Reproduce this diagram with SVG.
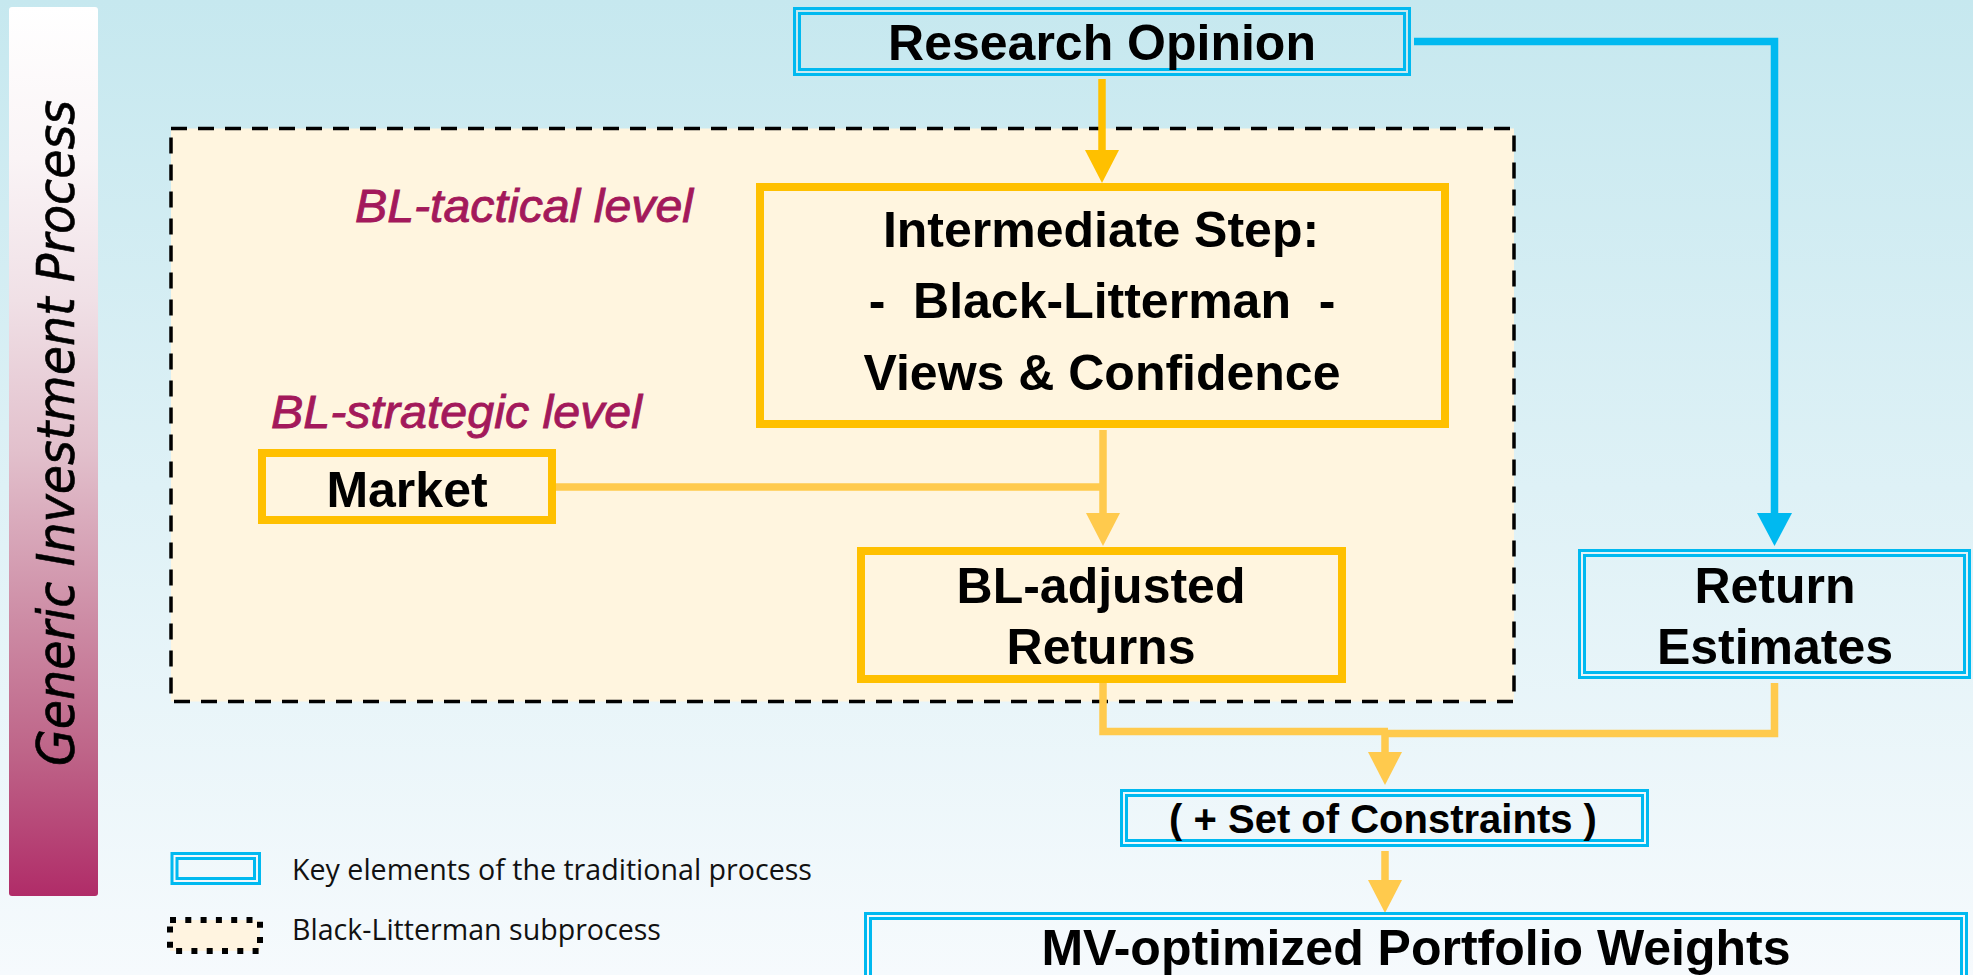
<svg xmlns="http://www.w3.org/2000/svg" width="1973" height="975" viewBox="0 0 1973 975">
<defs>
  <linearGradient id="bg" x1="0" y1="0" x2="0" y2="1">
    <stop offset="0" stop-color="#c6e8ef"/>
    <stop offset="1" stop-color="#f6fafd"/>
  </linearGradient>
  <linearGradient id="bar" x1="0" y1="0" x2="0" y2="1">
    <stop offset="0" stop-color="#ffffff"/>
    <stop offset="0.17" stop-color="#faf4f6"/>
    <stop offset="0.33" stop-color="#f0e0e6"/>
    <stop offset="0.5" stop-color="#e2c0cc"/>
    <stop offset="0.69" stop-color="#cd8ca5"/>
    <stop offset="0.84" stop-color="#be6488"/>
    <stop offset="1" stop-color="#b02c68"/>
  </linearGradient>
  <marker id="ahGold" markerUnits="userSpaceOnUse" markerWidth="33" markerHeight="34" viewBox="0 0 33 34" refX="0" refY="17" orient="auto">
    <path d="M0,0 L33,17 L0,34 z" fill="#ffc000"/>
  </marker>
  <marker id="ahLight" markerUnits="userSpaceOnUse" markerWidth="33" markerHeight="34" viewBox="0 0 33 34" refX="0" refY="17" orient="auto">
    <path d="M0,0 L33,17 L0,34 z" fill="#ffca4d"/>
  </marker>
  <marker id="ahBlue" markerUnits="userSpaceOnUse" markerWidth="33" markerHeight="35" viewBox="0 0 33 35" refX="0" refY="17.5" orient="auto">
    <path d="M0,0 L33,17.5 L0,35 z" fill="#00b9f0"/>
  </marker>
</defs>
<style>
  .nt{font-family:"Liberation Sans",Arial,sans-serif;font-weight:bold;font-size:50px;fill:#000;text-anchor:middle}
  .gold{fill:none;stroke:#ffc000;stroke-width:8}
  .dbl{fill:none;stroke:#00b9f0;stroke-width:3}
  .lvl{font-family:"Liberation Sans",Arial,sans-serif;font-style:italic;font-size:47px;fill:#a3195b;stroke:#a3195b;stroke-width:0.9}
  .leg{font-family:"Open Sans","Liberation Sans",Arial,sans-serif;font-size:29px;fill:#111}
  .cg{fill:none;stroke:#ffc000;stroke-width:7.5}
  .cl{fill:none;stroke:#ffca4d;stroke-width:7.5}
  .cb{fill:none;stroke:#00b9f0;stroke-width:7.5}
</style>

<rect x="0" y="0" width="1973" height="975" fill="url(#bg)"/>

<g id="side-bar">
  <rect x="9" y="7" width="89" height="889" rx="3" fill="url(#bar)"/>
  <text transform="translate(74,433) rotate(-90)" text-anchor="middle" font-family="'DejaVu Sans',Verdana,sans-serif" font-style="italic" font-size="51" textLength="666" lengthAdjust="spacingAndGlyphs" fill="#000" stroke="#000" stroke-width="0.6">Generic Investment Process</text>
</g>

<g id="bl-subprocess">
  <rect x="171" y="128.5" width="1343" height="573" fill="#fff5df" stroke="#000" stroke-width="3.5" stroke-dasharray="16 11"/>
  <text class="lvl" x="355" y="222" textLength="338" lengthAdjust="spacingAndGlyphs">BL-tactical level</text>
  <text class="lvl" x="271" y="428" textLength="371" lengthAdjust="spacingAndGlyphs">BL-strategic level</text>
</g>

<g id="connectors">
  <path class="cg" d="M1102,79 V150" marker-end="url(#ahGold)"/>
  <path class="cb" d="M1414,41.5 H1774.5 V513" marker-end="url(#ahBlue)"/>
  <path class="cl" d="M1103,430 V513" marker-end="url(#ahLight)"/>
  <path class="cl" d="M556,487 H1103"/>
  <path class="cl" d="M1103,683 V731.5 H1388"/>
  <path class="cl" d="M1774.5,683 V733.5 H1382"/>
  <path class="cl" d="M1385,731 V752" marker-end="url(#ahLight)"/>
  <path class="cl" d="M1385,851 V880" marker-end="url(#ahLight)"/>
</g>

<g id="research-opinion">
  <rect class="dbl" x="794.5" y="8.5" width="615" height="66"/>
  <rect class="dbl" x="799.5" y="13.5" width="605" height="56"/>
  <text class="nt" x="1102" y="60">Research Opinion</text>
</g>

<g id="intermediate-step">
  <rect class="gold" x="760" y="187" width="685" height="237"/>
  <text class="nt" x="1101" y="247">Intermediate Step:</text>
  <text class="nt" x="1102" y="318" style="white-space:pre" xml:space="preserve">-  Black-Litterman  -</text>
  <text class="nt" x="1102" y="390">Views &amp; Confidence</text>
</g>

<g id="market">
  <rect class="gold" x="262" y="453" width="290" height="67"/>
  <text class="nt" x="407" y="507">Market</text>
</g>

<g id="bl-adjusted-returns">
  <rect class="gold" x="861" y="551" width="481" height="128"/>
  <text class="nt" x="1101" y="603">BL-adjusted</text>
  <text class="nt" x="1101" y="664">Returns</text>
</g>

<g id="return-estimates">
  <rect class="dbl" x="1579.5" y="550.5" width="390" height="127"/>
  <rect class="dbl" x="1584.5" y="555.5" width="380" height="117"/>
  <text class="nt" x="1775" y="603">Return</text>
  <text class="nt" x="1775" y="664">Estimates</text>
</g>

<g id="constraints">
  <rect class="dbl" x="1121.5" y="790.5" width="526" height="55"/>
  <rect class="dbl" x="1126.5" y="795.5" width="516" height="45"/>
  <text class="nt" x="1383" y="833" style="font-size:40px">( + Set of Constraints )</text>
</g>

<g id="mv-weights">
  <rect class="dbl" x="865.5" y="913.5" width="1101" height="100"/>
  <rect class="dbl" x="870.5" y="918.5" width="1091" height="90"/>
  <text class="nt" x="1416" y="965">MV-optimized Portfolio Weights</text>
</g>

<g id="legend">
  <rect class="dbl" x="172" y="853.5" width="87.5" height="30"/>
  <rect class="dbl" x="177" y="858.5" width="77.5" height="20"/>
  <text class="leg" x="292" y="880" textLength="520" lengthAdjust="spacingAndGlyphs">Key elements of the traditional process</text>
  <rect x="170" y="920" width="90" height="31" fill="#fff4e0" stroke="#000" stroke-width="6" stroke-dasharray="6 9.3"/>
  <text class="leg" x="292" y="940" textLength="369" lengthAdjust="spacingAndGlyphs">Black-Litterman subprocess</text>
</g>
</svg>
